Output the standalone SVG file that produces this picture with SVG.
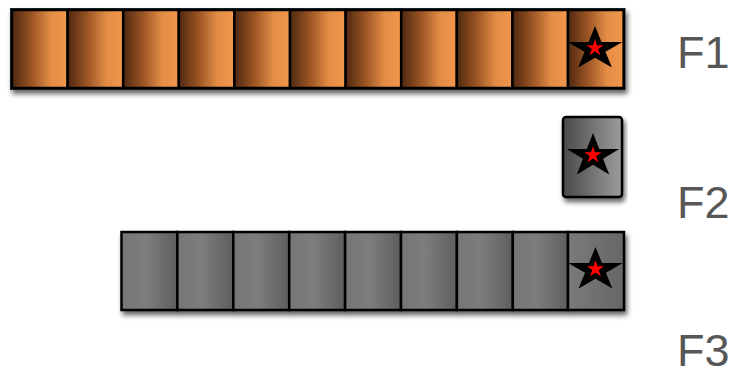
<svg xmlns="http://www.w3.org/2000/svg" width="733" height="371" viewBox="0 0 733 371">
<defs>
  <linearGradient id="gOrange" x1="0" y1="0" x2="1" y2="0">
    <stop offset="0" stop-color="#4f2810"/>
    <stop offset="0.35" stop-color="#9a5424"/>
    <stop offset="0.7" stop-color="#e38d46"/>
    <stop offset="1" stop-color="#f2964c"/>
  </linearGradient>
  <linearGradient id="gGray" x1="0" y1="0" x2="1" y2="0">
    <stop offset="0" stop-color="#767676"/>
    <stop offset="0.45" stop-color="#7c7c7c"/>
    <stop offset="1" stop-color="#5e5e5e"/>
  </linearGradient>
  <linearGradient id="gGrayStar" x1="0" y1="0" x2="1" y2="0">
    <stop offset="0" stop-color="#7a7a7a"/>
    <stop offset="1" stop-color="#666666"/>
  </linearGradient>
  <linearGradient id="gSingle" x1="0" y1="0" x2="1" y2="0">
    <stop offset="0" stop-color="#4a4a4a"/>
    <stop offset="1" stop-color="#9c9c9c"/>
  </linearGradient>
  <filter id="shadow" x="-10%" y="-20%" width="120%" height="150%">
    <feDropShadow dx="2" dy="4" stdDeviation="2.5" flood-color="#000" flood-opacity="0.6"/>
  </filter>
  <path id="star" d="M0,-23 L5.16,-7.11 L21.87,-7.11 L8.35,2.71 L13.52,18.61 L0,8.79 L-13.52,18.61 L-8.35,2.71 L-21.87,-7.11 L-5.16,-7.11 Z"/>
  <path id="redstar" d="M0,-9 L2.02,-2.78 L8.56,-2.78 L3.27,1.06 L5.29,7.28 L0,3.44 L-5.29,7.28 L-3.27,1.06 L-8.56,-2.78 L-2.02,-2.78 Z"/>
</defs>
<style>
  .cell { stroke:#000; stroke-width:2.5; }
  .or { fill:url(#gOrange); }
  .gr { fill:url(#gGray); }
  .lbl { font-family:"Liberation Sans", Arial, sans-serif; font-size:45px; fill:#575757; }
  .blk { fill:#000; }
  .red { fill:#ff0000; }
</style>

<g id="F1-row" filter="url(#shadow)">
  <rect x="12" y="10" width="611.5" height="78" fill="none" stroke="#1c2b2f" stroke-width="4"/>
  <rect class="cell or" x="12" y="10" width="55.6" height="78"/>
  <rect class="cell or" x="67.6" y="10" width="55.6" height="78"/>
  <rect class="cell or" x="123.2" y="10" width="55.6" height="78"/>
  <rect class="cell or" x="178.8" y="10" width="55.6" height="78"/>
  <rect class="cell or" x="234.4" y="10" width="55.6" height="78"/>
  <rect class="cell or" x="290" y="10" width="55.6" height="78"/>
  <rect class="cell or" x="345.6" y="10" width="55.6" height="78"/>
  <rect class="cell or" x="401.2" y="10" width="55.6" height="78"/>
  <rect class="cell or" x="456.8" y="10" width="55.6" height="78"/>
  <rect class="cell or" x="512.4" y="10" width="55.6" height="78"/>
  <rect class="cell or" x="568" y="10" width="55.6" height="78"/>
</g>
<g id="F1-star">
  <use href="#star" class="blk" transform="translate(595,49) scale(1.25,1)"/>
  <use href="#redstar" class="red" transform="translate(595,48)"/>
</g>

<g id="F2-box">
  <rect class="cell" x="563" y="117" width="59" height="80" rx="3" fill="url(#gSingle)" filter="url(#shadow)"/>
  <use href="#star" class="blk" transform="translate(593,156) scale(1.2,1)"/>
  <use href="#redstar" class="red" transform="translate(593,155)"/>
</g>

<g id="F3-row" filter="url(#shadow)">
  <rect class="cell gr" x="121.5" y="232" width="55.9" height="78"/>
  <rect class="cell gr" x="177.4" y="232" width="55.9" height="78"/>
  <rect class="cell gr" x="233.3" y="232" width="55.9" height="78"/>
  <rect class="cell gr" x="289.2" y="232" width="55.9" height="78"/>
  <rect class="cell gr" x="345.1" y="232" width="55.9" height="78"/>
  <rect class="cell gr" x="401" y="232" width="55.9" height="78"/>
  <rect class="cell gr" x="456.9" y="232" width="55.9" height="78"/>
  <rect class="cell gr" x="512.8" y="232" width="55.2" height="78"/>
  <rect class="cell" x="568" y="232" width="56" height="78" fill="url(#gGrayStar)"/>
</g>
<g id="F3-star">
  <use href="#star" class="blk" transform="translate(595.5,270) scale(1.25,1)"/>
  <use href="#redstar" class="red" transform="translate(595.5,269)"/>
</g>

<g id="labels">
  <text class="lbl" x="677" y="68">F1</text>
  <text class="lbl" x="677" y="218">F2</text>
  <text class="lbl" x="677" y="366">F3</text>
</g>
</svg>
